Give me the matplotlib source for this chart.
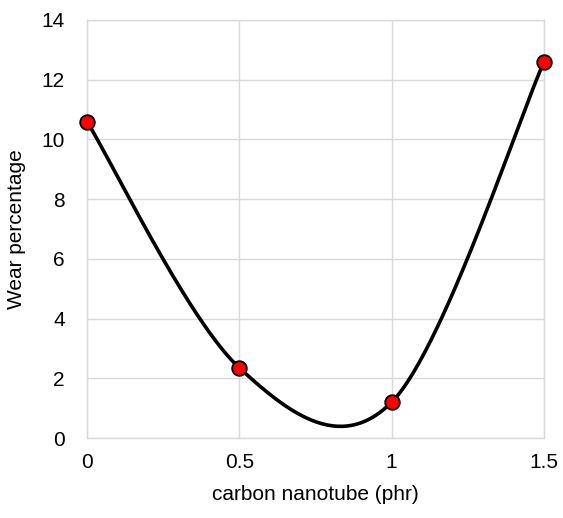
import matplotlib
matplotlib.use('Agg')
import matplotlib.pyplot as plt
import numpy as np

# data
cnt = [0, 0.5, 1, 1.5]
wear = [10.6, 2.35, 1.2, 12.6]

plt.rcParams['font.family'] = ['Liberation Sans', 'DejaVu Sans']


def excel_smooth(xs, ys, n=60):
    # Excel-style smoothed line: cubic Bezier with 1/6 tangent control points
    p = np.column_stack([xs, ys]).astype(float)
    out = []
    for i in range(len(p) - 1):
        p0 = p[max(i - 1, 0)]
        p1 = p[i]
        p2 = p[i + 1]
        p3 = p[min(i + 2, len(p) - 1)]
        c1 = p1 + (p2 - p0) / 6
        c2 = p2 - (p3 - p1) / 6
        t = np.linspace(0, 1, n)[:, None]
        seg = ((1 - t) ** 3) * p1 + 3 * ((1 - t) ** 2) * t * c1 + 3 * (1 - t) * t ** 2 * c2 + t ** 3 * p2
        out.append(seg)
    out = np.vstack(out)
    return out[:, 0], out[:, 1]


fig = plt.figure(figsize=(5.63, 5.18), dpi=100)
ax = fig.add_axes([0.1545, 0.1544, 0.8117, 0.807])

sx, sy = excel_smooth(cnt, wear)
ax.plot(sx, sy, color='black', lw=2.6, zorder=3, clip_on=False)
ax.plot(cnt, wear, 'o', ms=10.5, mfc='red', mec='black', mew=1.3, zorder=4, clip_on=False)

ax.set_xlim(0, 1.5)
ax.set_ylim(0, 14)
ax.set_xticks([0, 0.5, 1, 1.5])
ax.set_xticklabels(['0', '0.5', '1', '1.5'])
ax.set_yticks(range(0, 15, 2))
ax.grid(True, color='#d9d9d9', lw=1.0)
ax.set_axisbelow(True)
for s in ax.spines.values():
    s.set_color('#d9d9d9')
    s.set_linewidth(1.0)
ax.tick_params(length=0, labelsize=15, colors='black')
ax.tick_params(axis='y', pad=16)
ax.tick_params(axis='x', pad=11)
ax.set_xlabel('carbon nanotube (phr)', fontsize=15, labelpad=9)
ax.set_ylabel('Wear percentage', fontsize=15, labelpad=11)

fig.savefig('out.png', dpi=100)
